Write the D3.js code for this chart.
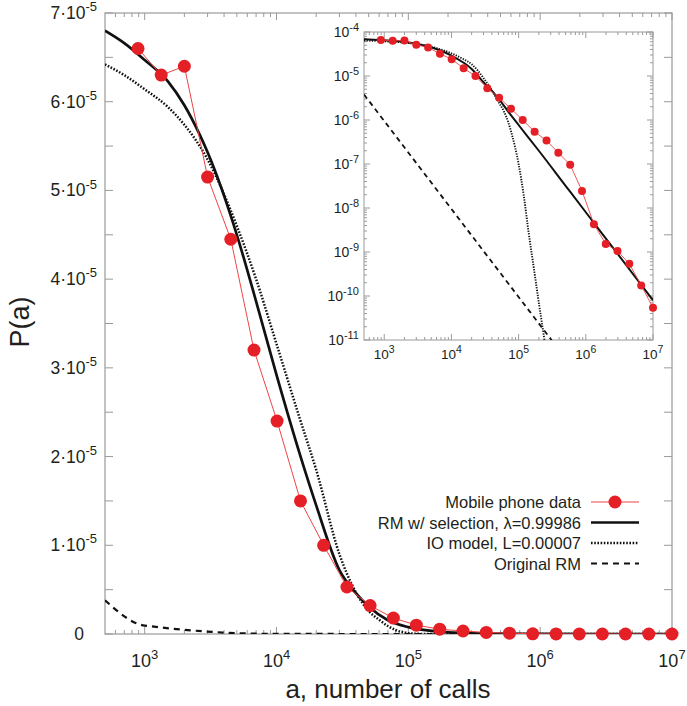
<!DOCTYPE html>
<html><head><meta charset="utf-8">
<script src="https://cdn.jsdelivr.net/npm/d3@7/dist/d3.min.js"></script>
<style>body{margin:0;background:#fff}svg{font-family:"Liberation Sans",Arial,Helvetica,sans-serif}</style>
</head><body><svg id="c" width="687" height="706"></svg>
<script>
// ---- data ----
const calls = [890, 1335, 2000, 3000, 4500, 6750, 10100, 15200, 22800, 34200, 51300, 77000,
  115000, 173000, 260000, 390000, 585000, 878000, 1320000, 1980000, 2960000, 4440000, 6670000, 10000000];
const phoneP = [6.6e-5, 6.3e-5, 6.4e-5, 5.15e-5, 4.45e-5, 3.2e-5, 2.4e-5, 1.5e-5, 1.0e-5, 5.3e-6, 3.2e-6, 1.8e-6,
  1.0e-6, 5.4e-7, 3.4e-7, 1.8e-7, 9.6e-8, 2.45e-8, 4.3e-9, 1.52e-9, 1.05e-9, 5.4e-10, 1.74e-10, 5.4e-11];

const rmSelA = [500, 700, 1000, 1500, 2000, 2630, 3000, 5000, 7000, 10000, 15000, 20000, 30000, 40000, 50000, 70000,
  100000, 200000, 500000, 1000000, 3000000, 10000000];
const rmSelP = [6.8e-5, 6.66e-5, 6.47e-5, 6.23e-5, 5.96e-5, 5.62e-5, 5.43e-5, 4.5e-5, 3.75e-5, 2.92e-5, 2.03e-5, 1.45e-5, 7.2e-6, 4.6e-6, 3.1e-6, 1.55e-6,
  7.7e-7, 2.0e-7, 3.2e-8, 8e-9, 8.9e-10, 8e-11];

const ioA = [500, 700, 1000, 1500, 2000, 3000, 5000, 7000, 10000, 15000, 20000, 30000, 40000, 50000, 60000, 70000,
  80000, 100000, 120000, 140000, 170000, 200000, 240000, 280000, 400000, 1000000, 10000000];
const ioP = [6.42e-5, 6.3e-5, 6.14e-5, 5.94e-5, 5.74e-5, 5.35e-5, 4.6e-5, 4.0e-5, 3.27e-5, 2.43e-5, 1.85e-5, 9.0e-6, 4.7e-6, 2.6e-6, 1.6e-6, 9e-7,
  4.5e-7, 1e-7, 1.8e-8, 3e-9, 3.9e-10, 7e-11, 1.1e-11, 2e-12, 1e-14, 1e-20, 1e-30];

const origA = [500, 1000, 10000, 100000, 1000000, 10000000];
const origP = [3.8e-6, 9.5e-7, 9.5e-9, 9.5e-11, 9.5e-13, 9.5e-15];

const xTickValues = [1e3, 1e4, 1e5, 1e6, 1e7];
const xTickLabels = ["10^3", "10^4", "10^5", "10^6", "10^7"];
const mainYTickValues = [0, 1e-5, 2e-5, 3e-5, 4e-5, 5e-5, 6e-5, 7e-5];
const mainYTickLabels = ["0", "1·10^-5", "2·10^-5", "3·10^-5", "4·10^-5", "5·10^-5", "6·10^-5", "7·10^-5"];
const insetYTickValues = [1e-4, 1e-5, 1e-6, 1e-7, 1e-8, 1e-9, 1e-10, 1e-11];
const insetYTickLabels = ["10^-4", "10^-5", "10^-6", "10^-7", "10^-8", "10^-9", "10^-10", "10^-11"];
const legendLabels = ["Mobile phone data", "RM w/ selection, λ=0.99986", "IO model, L=0.00007", "Original RM"];

// ---- setup ----
const svg = d3.select("#c");
const AX = "#9a9a9a", TXT = "#231f20", RED = "#e41f26";

const x = d3.scaleLog().domain([500, 1e7]).range([105, 672]);
const y = d3.scaleLinear().domain([0, 7e-5]).range([634, 13]);
const xi = d3.scaleLog().domain([500, 1e7]).range([364, 653]);
const yi = d3.scaleLog().domain([1e-11, 1e-4]).range([340, 32]);

function minorLog(dom) {
  const out = [];
  for (let d = -12; d <= 7; d++) for (let k = 2; k <= 9; k++) {
    const v = k * Math.pow(10, d);
    if (v > dom[0] && v < dom[1]) out.push(v);
  }
  return out;
}
function supText(sel, str, base, sup) {
  const parts = str.split("^");
  sel.append("tspan").text(parts[0]).attr("font-size", base);
  if (parts[1]) sel.append("tspan").text(parts[1]).attr("font-size", sup).attr("dy", -base * 0.45);
}

svg.append("defs").append("clipPath").attr("id", "mclip").append("rect")
  .attr("x", 105).attr("y", 13).attr("width", 567).attr("height", 621);
svg.select("defs").append("clipPath").attr("id", "iclip").append("rect")
  .attr("x", 364).attr("y", 32).attr("width", 289).attr("height", 308);

// ---- main plot frame & ticks ----
const g = svg.append("g");
const tk = g.append("g").attr("stroke", AX).attr("stroke-width", 1);
minorLog(x.domain()).forEach(v => {
  tk.append("line").attr("x1", x(v)).attr("x2", x(v)).attr("y1", 634).attr("y2", 630);
  tk.append("line").attr("x1", x(v)).attr("x2", x(v)).attr("y1", 13).attr("y2", 17);
});
xTickValues.forEach(v => {
  tk.append("line").attr("x1", x(v)).attr("x2", x(v)).attr("y1", 634).attr("y2", 627);
  tk.append("line").attr("x1", x(v)).attr("x2", x(v)).attr("y1", 13).attr("y2", 20);
});
d3.range(0, 7.01e-5, 0.5e-5).forEach(v => {
  tk.append("line").attr("x1", 105).attr("x2", 113).attr("y1", y(v)).attr("y2", y(v));
  tk.append("line").attr("x1", 672).attr("x2", 664).attr("y1", y(v)).attr("y2", y(v));
});
g.append("rect").attr("x", 105).attr("y", 13).attr("width", 567).attr("height", 621)
  .attr("fill", "none").attr("stroke", AX).attr("stroke-width", 1.2);

xTickValues.forEach((v, i) => {
  const t = g.append("text").attr("x", x(v)).attr("y", 667).attr("text-anchor", "middle").attr("fill", TXT);
  supText(t, xTickLabels[i], 18, 13);
});
mainYTickValues.forEach((v, i) => {
  const t = g.append("text").attr("x", v === 0 ? 84 : 97).attr("y", y(v) + 6).attr("text-anchor", "end").attr("fill", TXT);
  supText(t, mainYTickLabels[i], 17.5, 13);
});
g.append("text").attr("x", 388).attr("y", 698).attr("text-anchor", "middle").attr("font-size", 26).attr("fill", TXT)
  .text("a, number of calls");
g.append("text").attr("transform", "translate(29,322) rotate(-90)").attr("text-anchor", "middle")
  .attr("font-size", 27).attr("fill", TXT).text("P(a)");

// ---- main curves ----
const mline = d3.line().x(d => x(d[0])).y(d => y(d[1])).curve(d3.curveMonotoneX);
const mc = g.append("g").attr("clip-path", "url(#mclip)").attr("fill", "none");
mc.append("path").attr("d", mline(d3.zip(origA, origP))).attr("stroke", "#111").attr("stroke-width", 2.2).attr("stroke-dasharray", "6,5");
mc.append("path").attr("d", mline(d3.zip(ioA, ioP))).attr("stroke", "#111").attr("stroke-width", 2.5).attr("stroke-dasharray", "1.6,1.6");
mc.append("path").attr("d", mline(d3.zip(rmSelA, rmSelP))).attr("stroke", "#111").attr("stroke-width", 2.7);
const mdata = d3.zip(calls, phoneP);
mc.append("path").attr("d", d3.line().x(d => x(d[0])).y(d => y(d[1]))(mdata)).attr("stroke", "#ee4444").attr("stroke-width", 1);
g.append("g").selectAll("circle").data(mdata).join("circle")
  .attr("cx", d => x(d[0])).attr("cy", d => y(d[1])).attr("r", 6.5).attr("fill", RED);

// ---- legend ----
const lg = g.append("g");
legendLabels.forEach((s, i) => {
  const by = 508 + i * 20.5;
  lg.append("text").attr("x", 581).attr("y", by).attr("text-anchor", "end").attr("font-size", 16.5).attr("fill", TXT).text(s);
  const ly = by - 6;
  const l = lg.append("line").attr("x1", 591).attr("x2", 639).attr("y1", ly).attr("y2", ly).attr("fill", "none");
  if (i === 0) { l.attr("stroke", "#ee4444").attr("stroke-width", 1);
    lg.append("circle").attr("cx", 615).attr("cy", ly).attr("r", 6.5).attr("fill", RED); }
  if (i === 1) l.attr("stroke", "#111").attr("stroke-width", 2.7);
  if (i === 2) l.attr("stroke", "#111").attr("stroke-width", 2.5).attr("stroke-dasharray", "1.6,1.6");
  if (i === 3) l.attr("stroke", "#111").attr("stroke-width", 2.2).attr("stroke-dasharray", "6,5");
});

// ---- inset ----
const ig = svg.append("g");
ig.append("rect").attr("x", 364).attr("y", 32).attr("width", 289).attr("height", 308).attr("fill", "#fff");
const itk = ig.append("g").attr("stroke", AX).attr("stroke-width", 1);
minorLog(xi.domain()).forEach(v => {
  itk.append("line").attr("x1", xi(v)).attr("x2", xi(v)).attr("y1", 340).attr("y2", 337);
  itk.append("line").attr("x1", xi(v)).attr("x2", xi(v)).attr("y1", 32).attr("y2", 35);
});
xTickValues.forEach(v => {
  itk.append("line").attr("x1", xi(v)).attr("x2", xi(v)).attr("y1", 340).attr("y2", 334);
  itk.append("line").attr("x1", xi(v)).attr("x2", xi(v)).attr("y1", 32).attr("y2", 38);
});
minorLog(yi.domain()).forEach(v => {
  itk.append("line").attr("x1", 364).attr("x2", 367).attr("y1", yi(v)).attr("y2", yi(v));
  itk.append("line").attr("x1", 653).attr("x2", 650).attr("y1", yi(v)).attr("y2", yi(v));
});
insetYTickValues.forEach(v => {
  itk.append("line").attr("x1", 364).attr("x2", 370).attr("y1", yi(v)).attr("y2", yi(v));
  itk.append("line").attr("x1", 653).attr("x2", 647).attr("y1", yi(v)).attr("y2", yi(v));
});
ig.append("rect").attr("x", 364).attr("y", 32).attr("width", 289).attr("height", 308)
  .attr("fill", "none").attr("stroke", AX).attr("stroke-width", 1);
xTickValues.forEach((v, i) => {
  const t = ig.append("text").attr("x", xi(v)).attr("y", 359).attr("text-anchor", "middle").attr("fill", TXT);
  supText(t, xTickLabels[i], 13.5, 10.5);
});
insetYTickValues.forEach((v, i) => {
  const t = ig.append("text").attr("x", 359).attr("y", yi(v) + 5).attr("text-anchor", "end").attr("fill", TXT);
  supText(t, insetYTickLabels[i], 14, 11);
});
const iline = d3.line().x(d => xi(d[0])).y(d => yi(d[1])).curve(d3.curveMonotoneX);
const ic = ig.append("g").attr("clip-path", "url(#iclip)").attr("fill", "none");
ic.append("path").attr("d", iline(d3.zip(origA, origP))).attr("stroke", "#111").attr("stroke-width", 1.8).attr("stroke-dasharray", "5,4");
ic.append("path").attr("d", iline(d3.zip(ioA, ioP))).attr("stroke", "#111").attr("stroke-width", 1.9).attr("stroke-dasharray", "1.3,1.3");
ic.append("path").attr("d", iline(d3.zip(rmSelA, rmSelP))).attr("stroke", "#111").attr("stroke-width", 2);
ic.append("path").attr("d", d3.line().x(d => xi(d[0])).y(d => yi(d[1]))(mdata)).attr("stroke", "#ee4444").attr("stroke-width", 0.9);
ig.append("g").selectAll("circle").data(mdata).join("circle")
  .attr("cx", d => xi(d[0])).attr("cy", d => yi(d[1])).attr("r", 4).attr("fill", RED);
</script></body></html>
